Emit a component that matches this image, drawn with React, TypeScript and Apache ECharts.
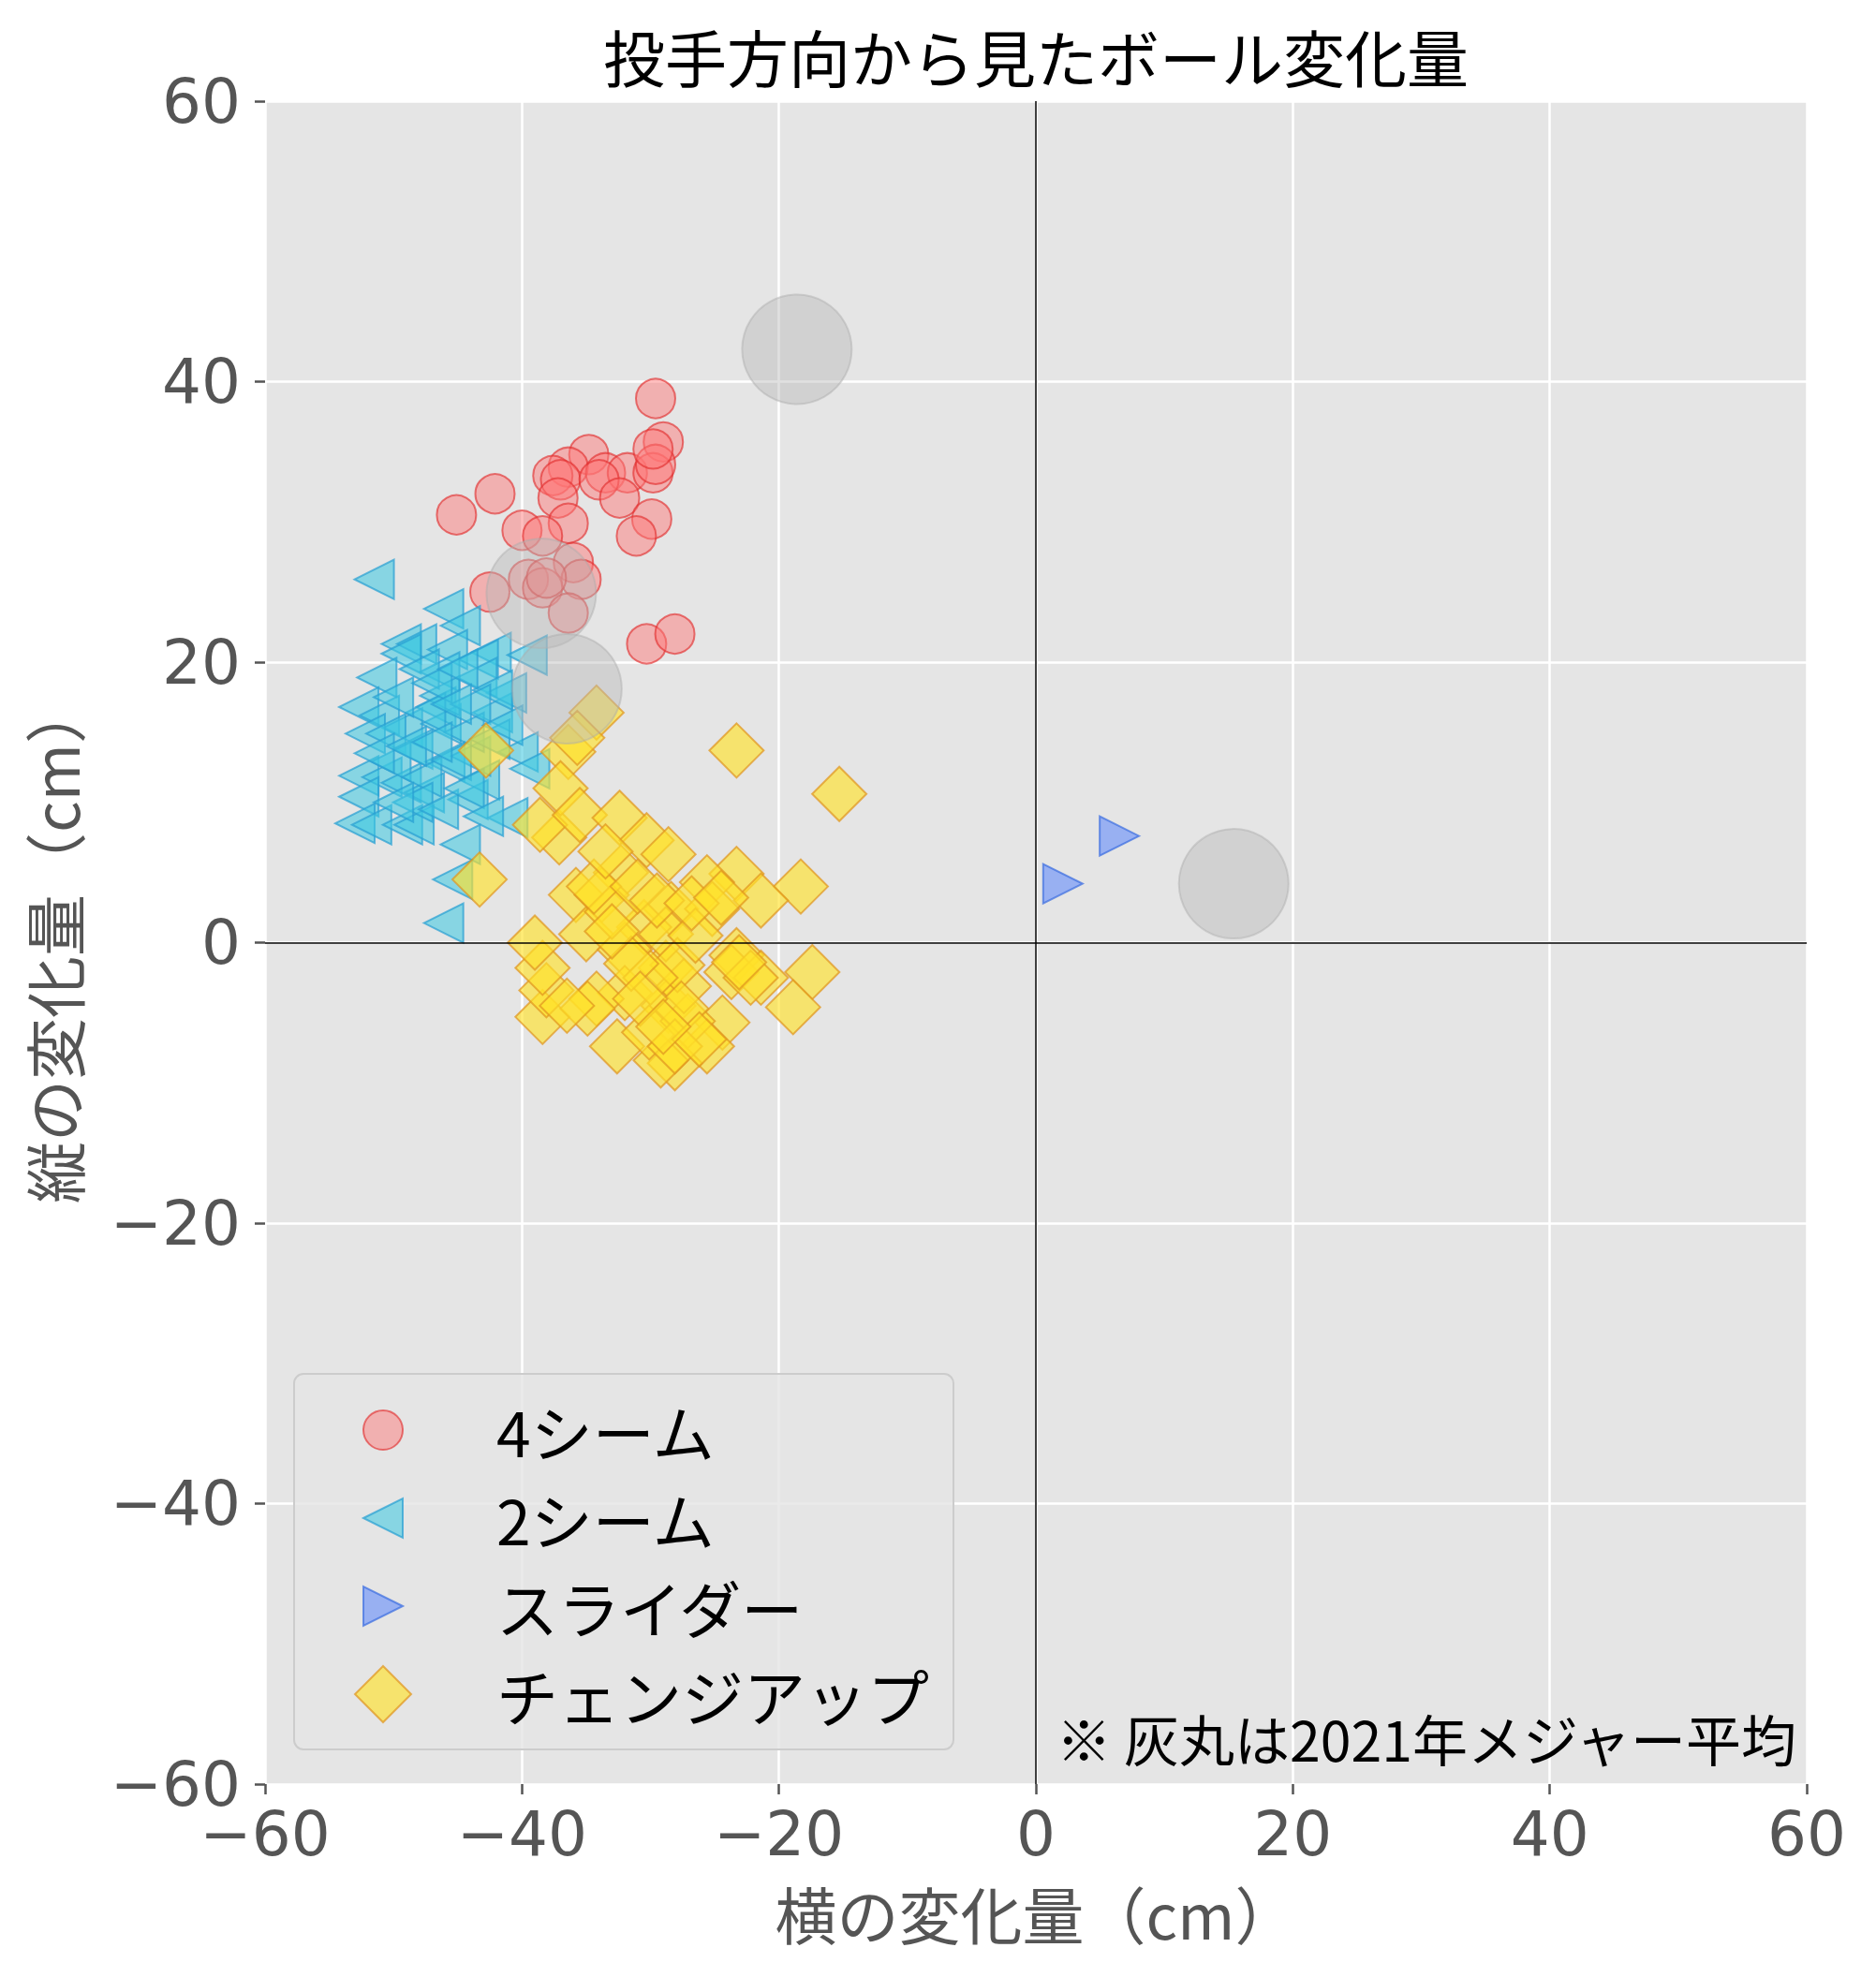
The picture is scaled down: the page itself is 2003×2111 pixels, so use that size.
import React, { useEffect, useRef } from "react";
import * as echarts from "echarts";

const TITLE = "投手方向から見たボール変化量";
const X_NAME = "横の変化量（cm）";
const Y_NAME = "縦の変化量（cm）";
const NOTE = "※ 灰丸は2021年メジャー平均";
const SERIES_NAMES = ["4シーム", "2シーム", "スライダー", "チェンジアップ"];
const AXIS_MIN = -60;
const AXIS_MAX = 60;
const AXIS_STEP = 20;

const fourSeam: number[][] = [
  [-29.6, 38.8], [-29.0, 35.7], [-34.8, 34.8], [-36.4, 33.9], [-37.6, 33.3], [-37.0, 33.0],
  [-33.5, 33.5], [-31.8, 33.5], [-29.8, 33.5], [-29.6, 34.1], [-29.8, 35.2], [-34.0, 33.0],
  [-37.2, 31.7], [-32.4, 31.7], [-42.1, 32.0], [-45.1, 30.5], [-36.4, 29.9], [-40.0, 29.4],
  [-38.4, 29.0], [-29.9, 30.2], [-31.1, 29.0], [-36.0, 27.1], [-35.4, 25.9], [-39.5, 25.9],
  [-38.4, 25.3], [-38.1, 26.0], [-42.5, 25.0], [-36.4, 23.5], [-30.3, 21.3], [-28.1, 22.0],
];

const twoSeam: number[][] = [
  [-51.5, 25.9], [-46.1, 23.8], [-44.8, 22.6], [-49.4, 21.3], [-48.2, 21.3], [-49.4, 20.6],
  [-45.8, 20.9], [-42.4, 20.7], [-43.4, 20.2], [-39.6, 20.5], [-51.3, 18.9], [-46.4, 19.3],
  [-43.5, 18.9], [-52.7, 16.8], [-46.7, 16.8], [-42.3, 16.4], [-41.2, 17.8], [-51.1, 16.2],
  [-49.3, 15.3], [-52.2, 14.9], [-50.6, 14.9], [-46.3, 15.6], [-40.3, 13.6], [-39.4, 12.4],
  [-52.7, 11.9], [-50.9, 11.8], [-49.4, 11.4], [-47.6, 10.7], [-44.2, 10.2], [-52.7, 10.4],
  [-46.0, 12.9], [-43.3, 11.6], [-41.1, 8.9], [-53.0, 8.5], [-51.7, 8.4], [-49.3, 8.4],
  [-48.4, 8.4], [-44.8, 7.0], [-45.4, 4.5], [-46.1, 1.4], [-46.4, 17.6], [-47.5, 16.4],
  [-44.0, 13.3], [-48.5, 13.8], [-50.2, 12.9], [-47.8, 11.8], [-42.3, 18.0], [-48.0, 19.5],
  [-44.5, 15.0], [-50.0, 17.5], [-47.0, 18.5], [-45.0, 19.5], [-44.0, 17.0], [-45.5, 13.0],
  [-42.5, 14.5], [-48.5, 10.0], [-46.5, 9.5], [-50.0, 10.0], [-51.5, 13.5], [-49.0, 14.0],
  [-44.5, 11.0], [-43.0, 9.0], [-47.0, 14.3], [-45.5, 17.0], [-41.5, 15.5],
];

const slider: number[][] = [
  [2.1, 4.2], [6.5, 7.6],
];

const changeup: number[][] = [
  [-42.8, 13.7], [-23.3, 13.7], [-15.3, 10.6], [-43.3, 4.5], [-18.3, 4.0], [-23.3, 4.9],
  [-21.4, 3.0], [-17.4, -2.1], [-18.9, -4.6], [-23.3, -0.9], [-23.7, -2.1], [-21.4, -2.5],
  [-24.4, -5.7], [-25.6, -7.4], [-28.1, -8.6], [-29.2, -8.4], [-32.6, -7.4], [-38.4, -5.3],
  [-38.1, -3.4], [-38.4, -1.8], [-39.0, 0.0], [-37.1, 7.5], [-38.6, 8.4], [-36.4, 13.6],
  [-37.0, 11.0], [-35.5, 9.1], [-32.4, 8.9], [-30.3, 7.3], [-28.6, 6.3], [-32.3, 5.0],
  [-28.4, 2.4], [-25.6, 4.3], [-25.2, 2.4], [-35.8, 3.4], [-33.8, 3.4], [-35.0, 0.6],
  [-30.5, 1.1], [-32.0, -0.5], [-28.8, -1.8], [-32.0, -3.6], [-28.6, -4.5], [-30.1, -6.4],
  [-27.1, -5.6], [-27.4, -3.1], [-34.2, -4.0], [-33.0, 2.2], [-28.8, 0.6], [-34.2, 16.4],
  [-35.7, 14.6], [-34.4, 4.0], [-34.9, -4.7], [-22.2, -2.5], [-23.1, -1.4], [-27.9, -1.6],
  [-27.6, -4.7], [-28.1, -7.4], [-26.2, -6.9], [-31.0, 4.0], [-30.0, -2.5], [-29.5, 3.0],
  [-33.5, 6.5], [-26.5, 0.5], [-31.5, -1.5], [-36.5, -4.5], [-30.8, -4.0], [-26.8, 2.8],
  [-29.0, -6.0], [-24.5, 3.2], [-33.0, 0.8],
];

const mlbAverage: number[][] = [
  [-18.6, 42.3], [-38.5, 24.9], [-36.5, 18.1], [15.4, 4.2],
];

const JP_FONT = '"Noto Sans CJK JP", "Noto Sans", sans-serif';
const NUM_FONT = '"DejaVu Sans", sans-serif';

// legend icons: 60x60 box (bounding moves), marker 42 px in the middle
const ICON_CIRCLE = "path://M0,0 M60,60 M51,30 A21,21 0 1,1 9,30 A21,21 0 1,1 51,30 Z";
const ICON_LEFT = "path://M0,0 M60,60 M9,30 L51,9 L51,51 Z";
const ICON_RIGHT = "path://M0,0 M60,60 M51,30 L9,9 L9,51 Z";

const fmt = (v: number) => (v < 0 ? "\u2212" + Math.abs(v) : String(v));

export default function App() {
  const ref = useRef<HTMLDivElement>(null);

  useEffect(() => {
    if (!ref.current) return;
    const chart = echarts.init(ref.current, undefined, { renderer: "svg" });

    const axisCommon = {
      type: "value" as const,
      min: AXIS_MIN,
      max: AXIS_MAX,
      interval: AXIS_STEP,
      nameLocation: "middle" as const,
      nameTextStyle: { fontFamily: JP_FONT, fontSize: 66, color: "#555555" },
      axisLine: { show: false, onZero: false },
      axisTick: { show: true, length: 11, lineStyle: { color: "#555555", width: 2.5 } },
      axisLabel: {
        fontFamily: NUM_FONT,
        fontSize: 66,
        color: "#555555",
        formatter: fmt,
      },
      splitLine: { show: true, lineStyle: { color: "#ffffff", width: 2.5 } },
    };

    chart.setOption({
      animation: false,
      backgroundColor: "#ffffff",
      grid: {
        left: 283,
        right: 74,
        top: 108,
        bottom: 206,
        show: true,
        backgroundColor: "#e5e5e5",
        borderWidth: 0,
      },
      xAxis: {
        ...axisCommon,
        name: X_NAME,
        nameGap: 104,
        axisLabel: { ...axisCommon.axisLabel, margin: 20 },
      },
      yAxis: {
        ...axisCommon,
        name: Y_NAME,
        nameGap: 194,
        axisLabel: { ...axisCommon.axisLabel, margin: 26 },
      },
      legend: {
        data: [
          { name: SERIES_NAMES[0], icon: ICON_CIRCLE },
          { name: SERIES_NAMES[1], icon: ICON_LEFT },
          { name: SERIES_NAMES[2], icon: ICON_RIGHT },
          { name: SERIES_NAMES[3], icon: "diamond" },
        ],
        orient: "vertical",
        left: 314,
        top: 1467,
        itemWidth: 60,
        itemHeight: 60,
        itemGap: 28,
        padding: [27, 26, 26, 64],
        backgroundColor: "rgba(229,229,229,0.8)",
        borderColor: "#cccccc",
        borderWidth: 2,
        borderRadius: 10,
        textStyle: {
          fontFamily: JP_FONT,
          fontSize: 66,
          color: "#000000",
          padding: [0, 0, 0, 86],
          lineHeight: 60,
        },
      },
      graphic: [
        {
          type: "text",
          x: 1106,
          y: 59,
          style: {
            text: TITLE,
            font: `66px ${JP_FONT}`,
            fill: "#000000",
            textAlign: "center",
            textVerticalAlign: "middle",
          },
        },
        {
          type: "text",
          x: 1918,
          y: 1855,
          z: 100,
          style: {
            text: NOTE,
            font: `59px ${JP_FONT}`,
            fill: "#000000",
            textAlign: "right",
            textVerticalAlign: "middle",
          },
        },
      ],
      series: [
        {
          name: SERIES_NAMES[0],
          type: "scatter",
          data: fourSeam,
          symbol: "circle",
          symbolSize: 42,
          itemStyle: {
            color: "rgba(255,120,120,0.6)",
            borderColor: "rgba(225,45,45,0.8)",
            borderWidth: 2,
          },
          z: 2,
        },
        {
          name: SERIES_NAMES[1],
          type: "scatter",
          data: twoSeam,
          symbol: "triangle",
          symbolRotate: 90,
          symbolSize: 42,
          itemStyle: {
            color: "rgba(60,200,225,0.7)",
            borderColor: "rgba(40,160,210,0.9)",
            borderWidth: 2,
          },
          z: 2,
        },
        {
          name: SERIES_NAMES[2],
          type: "scatter",
          data: slider,
          symbol: "triangle",
          symbolRotate: -90,
          symbolSize: 42,
          itemStyle: {
            color: "rgba(100,140,250,0.75)",
            borderColor: "rgba(60,110,225,0.9)",
            borderWidth: 2,
          },
          z: 2,
        },
        {
          name: SERIES_NAMES[3],
          type: "scatter",
          data: changeup,
          symbol: "diamond",
          symbolSize: 58,
          itemStyle: {
            color: "rgba(255,225,40,0.8)",
            borderColor: "rgba(225,150,30,0.9)",
            borderWidth: 2,
          },
          z: 2,
        },
        {
          name: "zero",
          type: "scatter",
          data: [],
          z: 3,
          markLine: {
            silent: true,
            symbol: "none",
            label: { show: false },
            lineStyle: { color: "#000000", width: 1.5, type: "solid" },
            data: [{ xAxis: 0 }, { yAxis: 0 }],
          },
        },
        {
          name: "2021 MLB",
          type: "scatter",
          data: mlbAverage,
          symbol: "circle",
          symbolSize: 117,
          itemStyle: {
            color: "rgba(185,185,185,0.55)",
            borderColor: "rgba(170,170,170,0.55)",
            borderWidth: 2,
          },
          z: 4,
        },
      ],
    });

    return () => chart.dispose();
  }, []);

  return (
    <div
      ref={ref}
      style={{ position: "absolute", left: 0, top: 0, width: 2003, height: 2111 }}
    />
  );
}
